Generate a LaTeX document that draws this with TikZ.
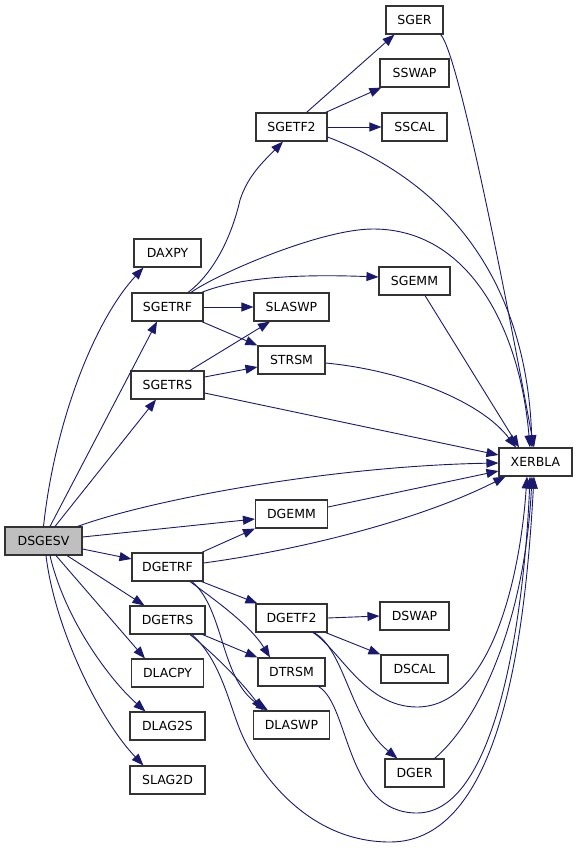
\documentclass[tikz,border=0pt]{standalone}
\usepackage{fontspec}
\setmainfont{DejaVu Sans}
\usepackage{xcolor}
\usepackage{tikz}
\usetikzlibrary{arrows.meta}
\definecolor{callblue}{HTML}{191970}
\definecolor{rootgray}{HTML}{BFBFBF}
\tikzset{fn/.style={draw=black!80, line width=1.1pt, fill=white, inner sep=0pt,
   minimum height=28pt, font=\fontsize{12.5}{14}\selectfont},
 root/.style={fn, fill=rootgray},
 call/.style={draw=callblue, line width=0.9pt, -{Triangle[length=12pt,width=9pt]}, fill=none},
 }

\begin{document}
\begin{tikzpicture}[x=1pt, y=-1pt]
        \useasboundingbox (0,0) rectangle (579,848);
        % boxes
        \foreach \n/\x/\y/\w in {SGER/414.5/20/57, SSWAP/414.5/73/69, SSCAL/414.5/127/65,
            SGETF2/291.5/127/71, DAXPY/167.5/253/67, SGEMM/414.5/281/71,
            SGETRF/167.5/307/71, SLASWP/291.5/307/75, STRSM/291.5/360/67,
            SGETRS/167.5/385/73, XERBLA/535.5/462/73, DGEMM/291.5/514/72,
            DGETRF/167.5/567/71, DGETRS/167.5/620/75, DGETF2/291.5/618/71,
            DSWAP/414.5/616/69, DLACPY/167.5/673/72, DTRSM/291.5/672/67,
            DSCAL/414.5/669/67, DLAG2S/167.5/726/75, DLASWP/291.5/725/76,
            DGER/414.5/773/59, SLAG2D/167.5/780/75} {
            \node[fn, minimum width=\w pt] (\n) at (\x, \y) {\n};
        }
        \node[root, minimum width=77pt] (DSGESV) at (43.5, 541) {DSGESV};

        % DSGESV
        \draw[call] (DSGESV.north) .. controls (55, 420) and (95, 320) .. ([xshift=10pt]DAXPY.south west);
        \draw[call] ([xshift=6.5pt]DSGESV.north) -- ([xshift=-10.5pt]SGETRF.south);
        \draw[call] ([xshift=11.5pt]DSGESV.north) -- ([xshift=-11.5pt]SGETRS.south);
        \draw[call] ([xshift=-5pt]DSGESV.north east) .. controls (150, 500) and (330, 466) .. ([yshift=-1pt]XERBLA.west);
        \draw[call] ([yshift=4pt]DSGESV.east) -- ([yshift=-5pt]DGEMM.west);
        \draw[call] ([yshift=-8pt]DSGESV.east) -- ([yshift=8pt]DGETRF.west);
        \draw[call] ([xshift=23.5pt]DSGESV.south) -- ([xshift=15pt]DGETRS.north west);
        \draw[call] ([xshift=12.5pt]DSGESV.south) -- ([xshift=14pt]DLACPY.north west);
        \draw[call] ([xshift=6.5pt]DSGESV.south) .. controls (65, 620) and (110, 680) .. ([xshift=16pt]DLAG2S.north west);
        \draw[call] ([xshift=2.5pt]DSGESV.south) .. controls (55, 630) and (100, 720) .. ([xshift=14pt]SLAG2D.north west);

        % single precision
        \draw[call] ([xshift=20.5pt]SGETRF.north) .. controls (215, 272) and (232, 235) .. (240, 200)
            .. controls (248, 175) and (265, 160) .. ([xshift=-8.5pt]SGETF2.south);
        \draw[call] ([xshift=23.5pt]SGETRF.north) .. controls (215, 275) and (320, 229) .. (373, 229)
            .. controls (470, 229) and (520, 330) .. ([xshift=-5.5pt]XERBLA.north);
        \draw[call] ([xshift=-2pt]SGETRF.north east) .. controls (240, 277) and (300, 274) .. ([yshift=4pt]SGEMM.west);
        \draw[call] (SGETRF.east) -- (SLASWP.west);
        \draw[call] ([xshift=-2pt]SGETRF.south east) -- (STRSM.north west);
        \draw[call] ([xshift=15pt]SGETF2.north) -- ([xshift=9pt]SGER.south west);
        \draw[call] ([xshift=-2pt]SGETF2.north east) -- ([xshift=2pt]SSWAP.south west);
        \draw[call] (SGETF2.east) -- (SSCAL.west);
        \draw[call] ([yshift=-10pt]SGETF2.east) .. controls (480, 195) and (528, 320) .. ([xshift=-3.5pt]XERBLA.north);
        \draw[call] ([xshift=-3pt]SGER.south east) .. controls (458, 52) and (505, 290) .. ([xshift=-1.5pt]XERBLA.north);
        \draw[call] ([xshift=10.5pt]SGEMM.south) -- ([xshift=-16.5pt]XERBLA.north);
        \draw[call] ([yshift=-3pt]STRSM.east) .. controls (400, 370) and (480, 400) .. ([xshift=-19.5pt]XERBLA.north);
        \draw[call] ([xshift=22.5pt]SGETRS.north) -- ([xshift=-21.5pt]SLASWP.south);
        \draw[call] ([yshift=8pt]SGETRS.east) -- ([yshift=-7pt]STRSM.west);
        \draw[call] ([yshift=-8pt]SGETRS.east) -- ([yshift=7pt]XERBLA.west);

        % double precision
        \draw[call] ([yshift=7pt]DGEMM.east) -- ([yshift=-9pt]XERBLA.west);
        \draw[call] ([xshift=-2pt]DGETRF.north east) -- (DGEMM.south west);
        \draw[call] ([yshift=4pt]DGETRF.east) .. controls (300, 550) and (420, 520) .. ([xshift=7pt]XERBLA.south west);
        \draw[call] ([xshift=-2pt]DGETRF.south east) -- ([xshift=2pt]DGETF2.north west);
        \draw[call] ([xshift=22.5pt]DGETRF.south) .. controls (215, 600) and (250, 625) .. ([xshift=-21.5pt]DTRSM.north);
        \draw[call] ([xshift=24.5pt]DGETRF.south) .. controls (225, 610) and (220, 680) .. ([xshift=-23.5pt]DLASWP.north);
        \draw[call] ([xshift=-3pt]DGETRS.south east) -- (DTRSM.north west);
        \draw[call] ([xshift=22.5pt]DGETRS.south) .. controls (215, 655) and (240, 680) .. ([xshift=-28.5pt]DLASWP.north);
        \draw[call] ([xshift=24.5pt]DGETRS.south) .. controls (220, 660) and (228, 700) .. (240, 730)
            .. controls (252, 760) and (300, 842) .. (390, 842)
            .. controls (500, 842) and (525, 640) .. ([xshift=-1.5pt]XERBLA.south);
        \draw[call] (DGETF2.east) -- (DSWAP.west);
        \draw[call] ([xshift=-2pt]DGETF2.south east) -- (DSCAL.north west);
        \draw[call] ([xshift=22.5pt]DGETF2.south) .. controls (345, 650) and (350, 720) .. ([xshift=13pt]DGER.north west);
        \draw[call] ([xshift=21.5pt]DGETF2.south) .. controls (340, 650) and (365, 707) .. (417, 707)
            .. controls (490, 707) and (520, 580) .. ([xshift=-8.5pt]XERBLA.south);
        \draw[call] ([xshift=-7pt]DTRSM.south east) .. controls (350, 705) and (345, 813) .. (417, 813)
            .. controls (500, 813) and (525, 600) .. ([xshift=-5.5pt]XERBLA.south);
        \draw[call] ([xshift=-10pt]DGER.north east) .. controls (480, 720) and (525, 620) .. ([xshift=-3.5pt]XERBLA.south);
    \end{tikzpicture}
\end{document}
